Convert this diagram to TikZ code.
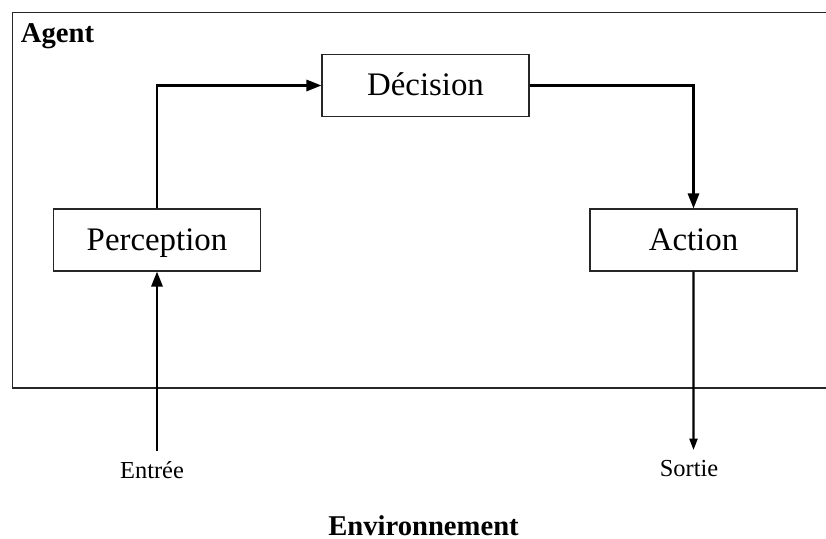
\documentclass[tikz,border=0pt]{standalone}
\usepackage{fontspec}
\setmainfont{Liberation Serif}
\usetikzlibrary{positioning, arrows.meta}
\tikzstyle{block} = [rectangle, minimum width=4.14cm, minimum height=1.24cm, text height=0.48cm, text depth=0.06cm, text centered, draw=black!85, line width=0.7pt, font=\fontsize{18.7}{22}\selectfont]
\tikzstyle{label} = [inner sep=0pt, font=\fontsize{13.9}{16}\selectfont]
\tikzstyle{title} = [inner sep=0pt, font=\fontsize{16.3}{19}\selectfont\bfseries]
\tikzstyle{arrow} = [line width=1.3pt, -{Triangle[length=8.5pt, width=6.4pt]}]
\tikzstyle{thinarrow} = [line width=1.2pt, -{Triangle[length=6.5pt, width=4.6pt]}]

\begin{document}
\begin{tikzpicture}[node distance=3cm]
			\useasboundingbox (0,0) rectangle (16.52,-10.78);
			
			% agent frame, its right side runs off the page
			\draw [draw=black!85, line width=0.7pt] (0.25,-0.25) rectangle (16.8,-7.76);
			\node (agent) [title, anchor=base west] at (0.41,-0.86) {Agent};
			
			\node (perception) [block] at (3.14,-4.80) {Perception};
			\node (decision) [block] at (8.51,-1.71) {Décision};
			\node (action) [block, right of=perception, xshift=7.73cm] {Action};
			
			\coordinate (entree) at (3.14,-9.02);
			\coordinate (sortie) at (13.87,-9.00);
			\node (entreelbl) [label, anchor=base] at (3.04,-9.58) {Entrée};
			\node (sortielbl) [label, anchor=base] at (13.78,-9.54) {Sortie};
			\node (environnement) [title, anchor=base] at (8.47,-10.70) {Environnement};
			
			\draw [arrow] (perception.north) |- (decision.west);
			\draw [arrow] (decision.east) -| (action.north);
			\draw [arrow] (entree) -- (perception.south);
			\draw [thinarrow] (action.south) -- (sortie);
			
		\end{tikzpicture}
\end{document}
